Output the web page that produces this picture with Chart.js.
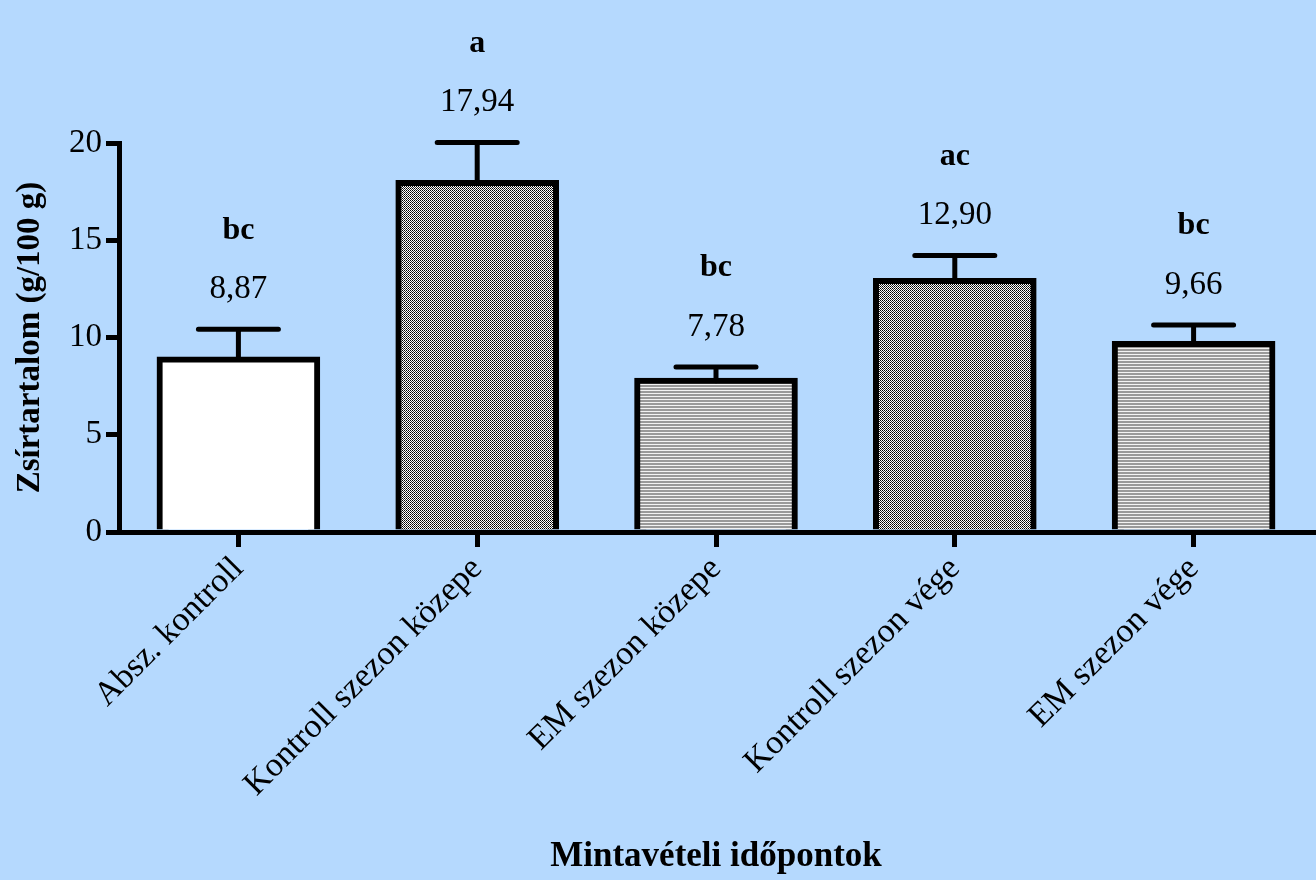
<!DOCTYPE html>
<html>
<head>
<meta charset="utf-8">
<script src="https://cdn.jsdelivr.net/npm/chart.js@4"></script>
<style>
    html, body { margin: 0; padding: 0; background: #b5d9fe; }
    canvas { display: block; }
</style>
</head>
<body>
<canvas id="chart" width="1316" height="880"></canvas>
<script>
// Fat content per sampling time (mean, SD) with significance letters
const categories = ['Absz. kontroll', 'Kontroll szezon közepe', 'EM szezon közepe', 'Kontroll szezon vége', 'EM szezon vége'];
const means = [8.87, 17.94, 7.78, 12.90, 9.66];
const errors = [1.55, 2.08, 0.70, 1.31, 0.98];
const letters = ['bc', 'a', 'bc', 'ac', 'bc'];
const yTicks = [0, 5, 10, 15, 20];

const BG = '#b5d9fe';
const SERIF = '"Liberation Serif", "Times New Roman", serif';

// Fill patterns for the bars
function makePattern(w, h, drawFn) {
    const c = document.createElement('canvas');
    c.width = w;
    c.height = h;
    drawFn(c.getContext('2d'));
    return document.getElementById('chart').getContext('2d').createPattern(c, 'repeat');
}

const checker = makePattern(2, 2, g => {
    g.fillStyle = '#ffffff';
    g.fillRect(0, 0, 2, 2);
    g.fillStyle = '#000000';
    g.fillRect(0, 0, 1, 1);
    g.fillStyle = '#333333';
    g.fillRect(1, 1, 1, 1);
});

const stripes = makePattern(3, 3, g => {
    g.fillStyle = '#f2f2f2';
    g.fillRect(0, 0, 3, 3);
    g.fillStyle = '#999999';
    g.fillRect(0, 1, 3, 2);
});

const fills = ['#ffffff', checker, stripes, checker, stripes];

// Page background
const background = {
    id: 'background',
    beforeDraw(chart) {
        const ctx = chart.ctx;
        ctx.save();
        ctx.fillStyle = BG;
        ctx.fillRect(0, 0, chart.width, chart.height);
        ctx.restore();
    }
};

// Upward error bars plus value and letter labels above them
const errorBars = {
    id: 'errorBars',
    afterDatasetsDraw(chart) {
        const ctx = chart.ctx;
        const yScale = chart.scales.y;
        const meta = chart.getDatasetMeta(0);
        ctx.save();
        ctx.strokeStyle = '#000';
        ctx.lineWidth = 5;
        ctx.lineCap = 'round';
        meta.data.forEach((bar, i) => {
            const x = bar.x;
            const yBar = yScale.getPixelForValue(means[i]);
            const yTop = yScale.getPixelForValue(means[i] + errors[i]);
            ctx.beginPath();
            ctx.moveTo(x, yBar);
            ctx.lineTo(x, yTop);
            ctx.moveTo(x - 40, yTop);
            ctx.lineTo(x + 40, yTop);
            ctx.stroke();

            ctx.fillStyle = '#000';
            ctx.textAlign = 'center';
            ctx.textBaseline = 'middle';
            ctx.font = '33px ' + SERIF;
            ctx.fillText(means[i].toFixed(2).replace('.', ','), x, yTop - 40);
            ctx.font = 'bold 32px ' + SERIF;
            ctx.fillText(letters[i], x, yTop - 99);
        });
        ctx.restore();
    }
};

new Chart(document.getElementById('chart'), {
    type: 'bar',
    data: {
        labels: categories,
        datasets: [{
            data: means,
            backgroundColor: fills,
            borderColor: '#000',
            borderWidth: 6,
            inflateAmount: 3,
            categoryPercentage: 1,
            barPercentage: 0.66
        }]
    },
    options: {
        responsive: false,
        animation: false,
        layout: {
            padding: { top: 143, right: 3, bottom: 0, left: 0 }
        },
        plugins: {
            legend: { display: false },
            tooltip: { enabled: false }
        },
        scales: {
            x: {
                grid: {
                    offset: false,
                    drawOnChartArea: false,
                    drawTicks: true,
                    tickLength: 15,
                    lineWidth: 5,
                    color: '#000'
                },
                border: { color: '#000', width: 5 },
                ticks: {
                    color: '#000',
                    font: { family: SERIF, size: 34 },
                    minRotation: 45,
                    maxRotation: 45,
                    autoSkip: false,
                    padding: 2
                },
                title: {
                    display: true,
                    text: 'Mintavételi időpontok',
                    color: '#000',
                    font: { family: SERIF, size: 35, weight: 'bold' },
                    padding: { top: 0, bottom: 2 }
                },
                afterFit(scale) {
                    scale.height = 880 - 532;
                }
            },
            y: {
                min: 0,
                max: 20,
                afterBuildTicks(scale) {
                    scale.ticks = yTicks.map(v => ({ value: v }));
                },
                grid: {
                    drawOnChartArea: false,
                    drawTicks: true,
                    tickLength: 13,
                    lineWidth: 5,
                    color: '#000'
                },
                border: { color: '#000', width: 5 },
                ticks: {
                    color: '#000',
                    font: { family: SERIF, size: 33 },
                    padding: 4
                },
                title: {
                    display: true,
                    text: 'Zsírtartalom (g/100 g)',
                    color: '#000',
                    font: { family: SERIF, size: 33, weight: 'bold' },
                    padding: { top: 11, bottom: 0 }
                },
                afterFit(scale) {
                    scale.width = 119;
                }
            }
        }
    },
    plugins: [background, errorBars]
});
</script>
</body>
</html>
